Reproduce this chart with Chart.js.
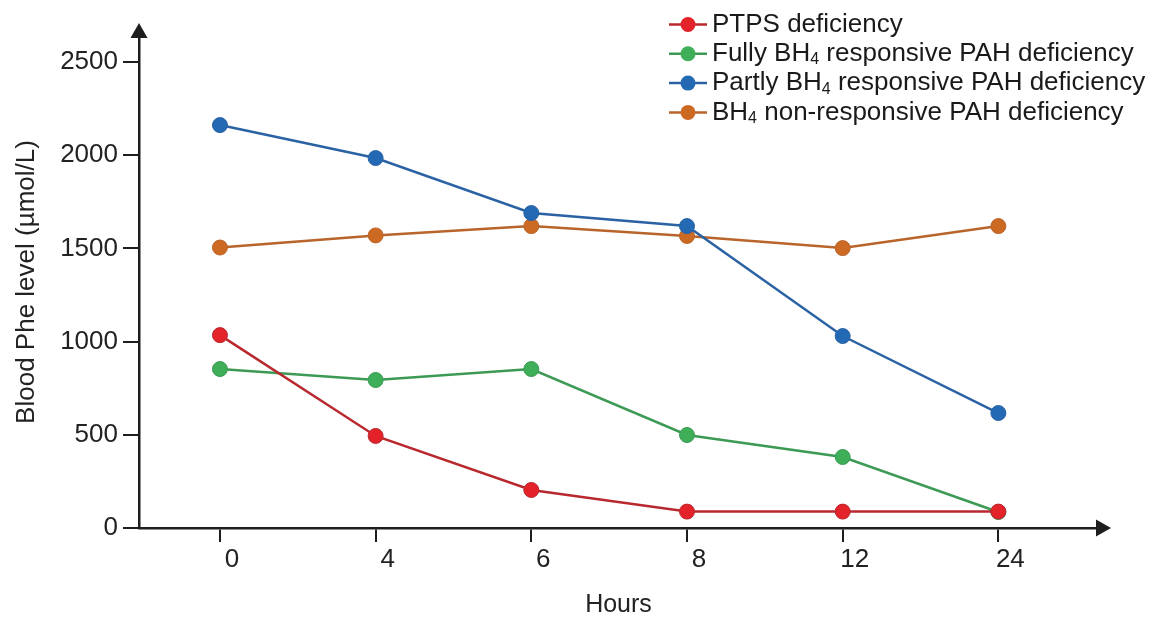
<!DOCTYPE html>
<html>
<head>
<meta charset="utf-8">
<script src="https://cdn.jsdelivr.net/npm/chart.js@4/dist/chart.umd.min.js"></script>
<style>
  html, body { margin: 0; padding: 0; background: #fff; }
  #wrap { width: 1154px; height: 618px; }
</style>
</head>
<body>
<div id="wrap"><canvas id="pheChart" width="1154" height="618"></canvas></div>
<script>
// values (µmol/L)
const hours = ['0', '4', '6', '8', '12', '24'];
const ptps = [1035, 494, 204, 88, 88, 88];
const fullyResponsive = [853, 794, 853, 499, 381, 86];
const partlyResponsive = [2162, 1985, 1690, 1620, 1030, 617];
const nonResponsive = [1505, 1570, 1620, 1567, 1502, 1620];
const yTicks = [0, 500, 1000, 1500, 2000, 2500];
const seriesNames = [
  'PTPS deficiency',
  'Fully BH₄ responsive PAH deficiency',
  'Partly BH₄ responsive PAH deficiency',
  'BH₄ non-responsive PAH deficiency'
];

const FONT = "'Liberation Sans', Arial, sans-serif";
const axisColor = '#1e1e1e';

const toPoints = arr => arr.map((v, i) => ({ x: i, y: v }));

function series(label, data, line, fill) {
  return {
    label,
    data: toPoints(data),
    borderColor: line,
    backgroundColor: fill,
    borderWidth: 2.5,
    tension: 0,
    pointRadius: 7.5,
    pointBackgroundColor: fill,
    pointBorderColor: line,
    pointBorderWidth: 1
  };
}

// legend with line + dot swatch, drawn inside the plot at top right
const sideLegend = {
  id: 'sideLegend',
  afterDraw(chart) {
    const c = chart.ctx;
    chart.data.datasets.forEach((ds, i) => {
      const y = 24.5 + i * 29.3;
      c.save();
      c.strokeStyle = ds.borderColor;
      c.lineWidth = 2.5;
      c.beginPath(); c.moveTo(669, y); c.lineTo(707, y); c.stroke();
      c.fillStyle = ds.pointBackgroundColor;
      c.beginPath(); c.arc(688, y, 7.5, 0, Math.PI * 2); c.fill();
      c.fillStyle = '#1a1a1a';
      c.textBaseline = 'middle';
      let x = 712;
      ds.label.split('₄').forEach((part, k) => {
        if (k > 0) {
          c.font = '16px ' + FONT;
          c.fillText('4', x, y + 6);
          x += c.measureText('4').width;
        }
        c.font = '26px ' + FONT;
        c.fillText(part, x, y);
        x += c.measureText(part).width;
      });
      c.restore();
    });
  }
};

// arrow heads at the ends of both axes
const axisArrows = {
  id: 'axisArrows',
  afterDraw(chart) {
    const { left, right, top, bottom } = chart.chartArea;
    const c = chart.ctx;
    c.save();
    c.fillStyle = axisColor;
    c.beginPath();
    c.moveTo(right - 2, bottom - 8.5);
    c.lineTo(right + 13, bottom);
    c.lineTo(right - 2, bottom + 8.5);
    c.closePath(); c.fill();
    c.beginPath();
    c.moveTo(left - 8.5, top + 2);
    c.lineTo(left, top - 13);
    c.lineTo(left + 8.5, top + 2);
    c.closePath(); c.fill();
    c.restore();
  }
};

new Chart(document.getElementById('pheChart'), {
  type: 'line',
  data: {
    datasets: [
      series(seriesNames[0], ptps, '#b8282e', '#e3222a'),
      series(seriesNames[1], fullyResponsive, '#3c9a55', '#3fae58'),
      series(seriesNames[2], partlyResponsive, '#2a62a4', '#2469b3'),
      series(seriesNames[3], nonResponsive, '#b8642a', '#cc6a24')
    ]
  },
  options: {
    responsive: false,
    animation: false,
    layout: { padding: { top: 36, right: 56, bottom: 0, left: 0 } },
    plugins: {
      legend: { display: false },
      tooltip: { enabled: false }
    },
    scales: {
      x: {
        type: 'linear',
        min: -0.52,
        max: 5.64,
        afterBuildTicks: s => { s.ticks = hours.map((h, i) => ({ value: i })); },
        afterFit: s => { s.height = 90; },
        border: { display: true, color: axisColor, width: 2.5 },
        grid: { display: true, drawOnChartArea: false, tickLength: 14, color: axisColor, lineWidth: 2 },
        ticks: {
          callback: v => hours[v],
          autoSkip: false,
          maxRotation: 0,
          padding: 2,
          labelOffset: 12,
          color: '#222',
          font: { family: FONT, size: 26 }
        },
        title: {
          display: true,
          text: 'Hours',
          color: '#222',
          padding: { top: 0, bottom: 0 },
          font: { family: FONT, size: 25, lineHeight: 1 }
        }
      },
      y: {
        min: 0,
        max: 2640,
        afterBuildTicks: s => { s.ticks = yTicks.map(v => ({ value: v })); },
        afterFit: s => { s.width = 139; },
        border: { display: true, color: axisColor, width: 2.5 },
        grid: { display: true, drawOnChartArea: false, tickLength: 16, color: axisColor, lineWidth: 2 },
        ticks: {
          callback: v => String(v),
          padding: 5,
          color: '#222',
          font: { family: FONT, size: 26 }
        },
        title: {
          display: true,
          text: 'Blood Phe level (µmol/L)',
          color: '#222',
          padding: { top: 14, bottom: 0 },
          font: { family: FONT, size: 26, lineHeight: 1 }
        }
      }
    }
  },
  plugins: [sideLegend, axisArrows]
});
</script>
</body>
</html>
